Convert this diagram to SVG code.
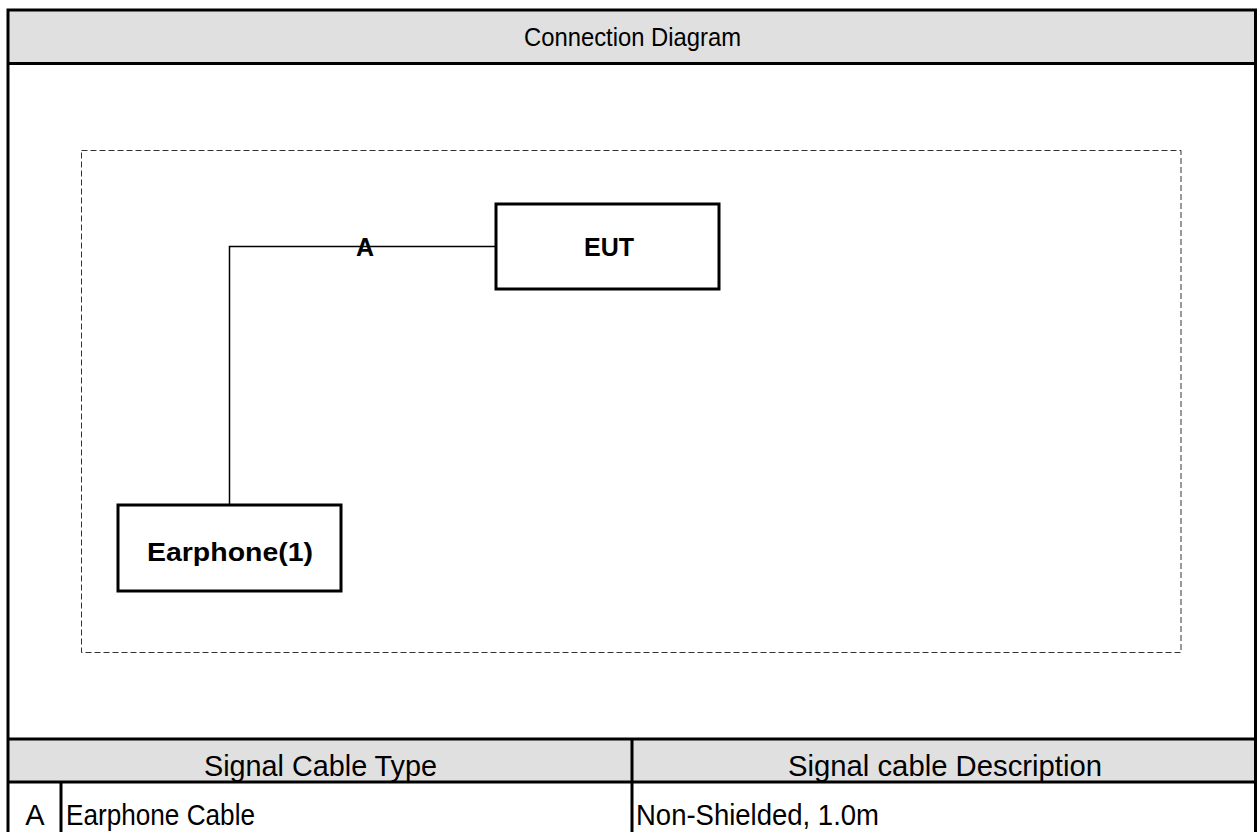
<svg xmlns="http://www.w3.org/2000/svg" width="1258" height="832" viewBox="0 0 1258 832">
<style>
.frame{stroke:#000;stroke-width:3;fill:none}
.hdr{fill:#e0e0e0}
.box{fill:#fff;stroke:#000;stroke-width:3}
.wire{stroke:#000;stroke-width:1.5;fill:none}
.dash{stroke:#333;stroke-width:1;fill:none;stroke-dasharray:6 3}
.t{font-family:"Liberation Sans",Arial,sans-serif;fill:#000}
.b{font-weight:bold;font-size:25px;text-anchor:middle}
.tab{font-size:29px}
</style>
<rect class="hdr" x="8" y="10" width="1247.5" height="53.5"/>
<rect class="hdr" x="8" y="739" width="1247.5" height="43"/>
<g id="frame">
<path class="frame" d="M8 832V10H1255.5V832M8 63.5H1255.5M8 739H1255.5M8 782H1255.5M632 739V832M61 782V832"/>
</g>
<text class="t" x="632.5" y="46" font-size="26" text-anchor="middle" textLength="217" lengthAdjust="spacingAndGlyphs">Connection Diagram</text>
<rect id="boundary" class="dash" x="81.5" y="150.5" width="1099.5" height="502"/>
<g id="connectors">
<path class="wire" d="M496 246.5H229.5V505"/>
<text class="t b" x="365" y="256">A</text>
</g>
<g id="EUT">
<rect class="box" x="496" y="204" width="223" height="85"/>
<text class="t b" x="609" y="256">EUT</text>
</g>
<g id="Earphone">
<rect class="box" x="118" y="505" width="223" height="86"/>
<text class="t b" x="230" y="561" font-size="28" textLength="166" lengthAdjust="spacingAndGlyphs">Earphone(1)</text>
</g>
<g id="table">
<text class="t tab" x="320.5" y="776" text-anchor="middle" textLength="233" lengthAdjust="spacingAndGlyphs">Signal Cable Type</text>
<text class="t tab" x="945" y="776" text-anchor="middle" textLength="314" lengthAdjust="spacingAndGlyphs">Signal cable Description</text>
<text class="t tab" x="35" y="825" text-anchor="middle">A</text>
<text class="t tab" x="66" y="825" textLength="189" lengthAdjust="spacingAndGlyphs">Earphone Cable</text>
<text class="t tab" x="636" y="825" textLength="243" lengthAdjust="spacingAndGlyphs">Non-Shielded, 1.0m</text>
</g>
</svg>
